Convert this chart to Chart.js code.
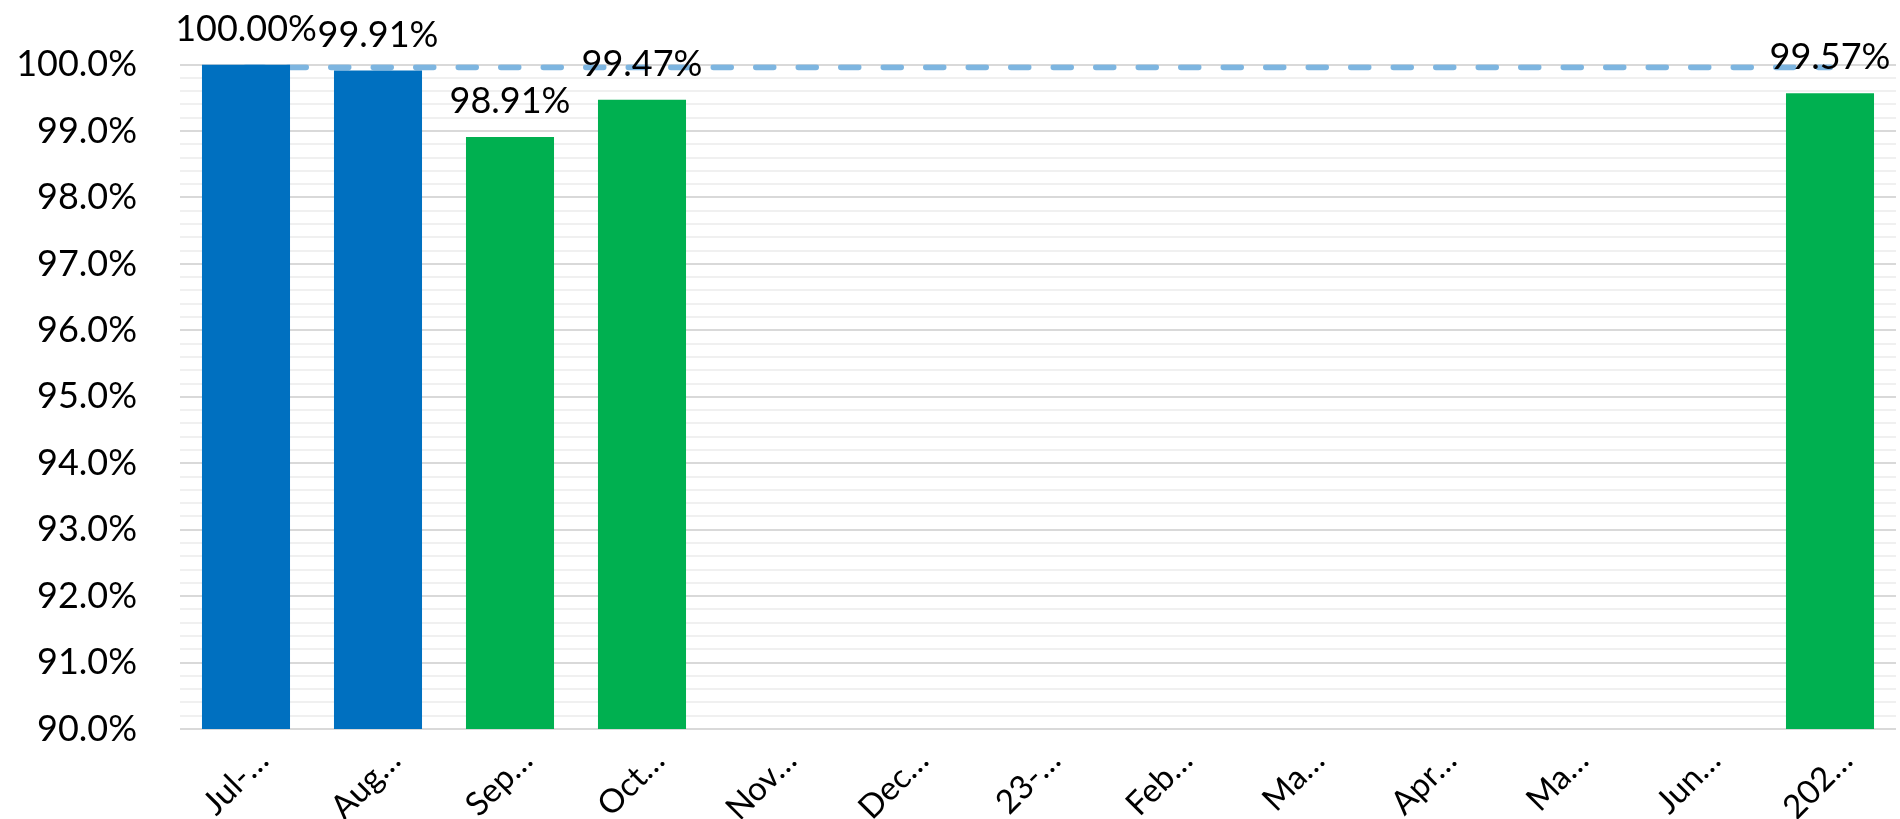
<!DOCTYPE html>
<html>
<head>
<meta charset="utf-8">
<script src="https://cdn.jsdelivr.net/npm/chart.js@4/dist/chart.umd.min.js"></script>
<style>
  html, body { margin: 0; padding: 0; background: #fff; }
  canvas { display: block; }
</style>
</head>
<body>
<canvas id="grafico" width="1900" height="819"></canvas>
<script>
const meses = ['Jul-…', 'Aug…', 'Sep…', 'Oct…', 'Nov…', 'Dec…', '23-…', 'Feb…', 'Ma…', 'Apr…', 'Ma…', 'Jun…', '202…'];
const resultado = [100.00, 99.91, 98.91, 99.47, null, null, null, null, null, null, null, null, 99.57];
const meta = [99.96, 99.96, 99.96, 99.96, 99.96, 99.96, 99.96, 99.96, 99.96, 99.96, 99.96, 99.96, 99.96];
const coresBarras = ['#0070C0', '#0070C0', '#00B050', '#00B050', '#00B050', '#00B050', '#00B050',
                     '#00B050', '#00B050', '#00B050', '#00B050', '#00B050', '#00B050'];

const fonte = 'Lato, "Liberation Sans", sans-serif';

// rótulos de valor em cima das barras
const rotulos = {
  id: 'rotulos',
  afterDatasetsDraw(chart) {
    const ctx = chart.ctx;
    const m = chart.getDatasetMeta(0);
    ctx.save();
    ctx.font = '36px ' + fonte;
    ctx.fillStyle = '#000';
    ctx.textAlign = 'center';
    ctx.textBaseline = 'alphabetic';
    m.data.forEach((el, i) => {
      const v = resultado[i];
      if (v === null) return;
      ctx.fillText(v.toFixed(2) + '%', el.x, el.y - 24);
    });
    ctx.restore();
  }
};

const inteiro = (v) => Math.abs(v - Math.round(v)) < 1e-6;

new Chart(document.getElementById('grafico'), {
  type: 'bar',
  data: {
    labels: meses,
    datasets: [
      {
        label: 'Resultado',
        data: resultado,
        backgroundColor: coresBarras,
        borderWidth: 0,
        categoryPercentage: 1,
        barPercentage: 0.667,
        order: 1
      },
      {
        type: 'line',
        label: 'Meta',
        data: meta,
        borderColor: '#7DB5E0',
        borderWidth: 6,
        borderDash: [17.5, 25],
        borderCapStyle: 'round',
        pointRadius: 0,
        fill: false,
        order: 2
      }
    ]
  },
  options: {
    responsive: false,
    animation: false,
    layout: {
      padding: { top: 60, right: 4, left: 0, bottom: 0 }
    },
    plugins: {
      legend: { display: false },
      tooltip: { enabled: false }
    },
    scales: {
      x: {
        grid: { display: false },
        border: { display: false },
        afterFit: (s) => { s.height = 90; },
        ticks: {
          autoSkip: false,
          maxRotation: 45,
          minRotation: 45,
          padding: 4,
          labelOffset: 17,
          color: '#000',
          font: { family: fonte, size: 33 }
        }
      },
      y: {
        min: 90,
        max: 100,
        border: { display: false },
        afterFit: (s) => { s.width = 180; },
        grid: {
          drawTicks: false,
          lineWidth: 2,
          color: (c) => inteiro(c.tick.value) ? '#D9D9D9' : '#F0F0F0'
        },
        ticks: {
          stepSize: 0.2,
          autoSkip: false,
          padding: 43,
          color: '#000',
          font: { family: fonte, size: 36 },
          callback: (v) => inteiro(v) ? Number(v).toFixed(1) + '%' : ''
        }
      }
    }
  },
  plugins: [rotulos]
});
</script>
</body>
</html>
